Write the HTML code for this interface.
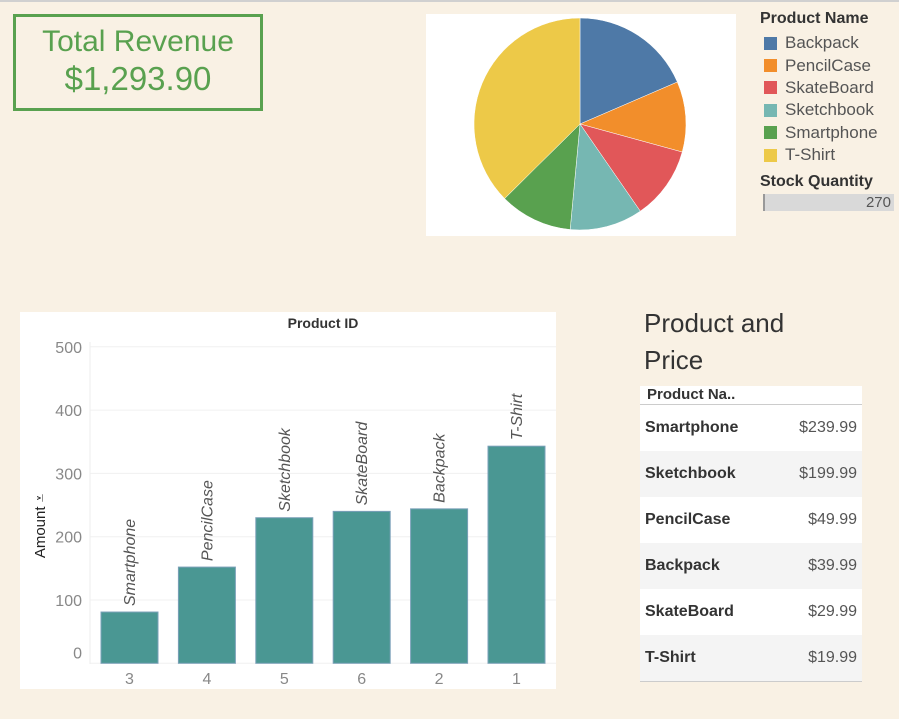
<!DOCTYPE html>
<html><head><meta charset="utf-8">
<style>
body{margin:0;width:899px;height:719px;background:#f9f1e4;font-family:"Liberation Sans",sans-serif;position:relative;overflow:hidden}
.abs{position:absolute}
</style></head><body>
<div class="abs" style="left:0;top:0;width:899px;height:2px;background:#d0d0d0"></div>
<div class="abs" style="left:13px;top:14px;width:250px;height:97px;border:3px solid #59a14f;box-sizing:border-box;text-align:center;color:#59a14f">
  <div style="font-size:30px;margin-top:8px">Total Revenue</div>
  <div style="font-size:33px;margin-top:1px">$1,293.90</div>
</div>
<svg class="abs" style="left:426px;top:14px" width="310" height="222" id="pie"><rect width="310" height="222" fill="#fff"/></svg>
<div class="abs" style="left:760px;top:10px;font-size:17px;color:#555">
  <div style="font-weight:bold;color:#333;margin-bottom:4px;font-size:16px">Product Name</div>
  <div id="legend"></div>
  <div style="font-weight:bold;color:#333;margin-top:7px;font-size:16px">Stock Quantity</div>
  <div style="margin-left:3px;width:131px;height:17px;background:#d9d9d9;border-left:2px solid #999;text-align:right;color:#555;font-size:15px;line-height:17px;margin-top:3px;padding-right:3px;box-sizing:border-box">270</div>
</div>
<svg class="abs" style="left:20px;top:312px" width="536" height="377" id="bar"></svg>
<div class="abs" style="left:644px;top:305px;font-size:26px;color:#333;line-height:37px">Product and<br>Price</div>
<div class="abs" style="left:640px;top:386px;width:222px" id="tbl">
  <div style="height:18px;background:#fff;border-bottom:1px solid #ccc;font-size:15px;font-weight:bold;color:#333;padding-left:7px;line-height:17px">Product Na..</div>
</div>
<script>
const names=["Backpack","PencilCase","SkateBoard","Sketchbook","Smartphone","T-Shirt"];
const colors=["#4e79a7","#f28e2b","#e15759","#76b7b2","#59a14f","#edc948"];
const stock=[50,29,30,30,30,101];
const barIds=["3","4","5","6","2","1"];
const barNames=["Smartphone","PencilCase","Sketchbook","SkateBoard","Backpack","T-Shirt"];
const amounts=[81,152,230,240,244,343];
const yTicks=[0,100,200,300,400,500];
const tblNames=["Smartphone","Sketchbook","PencilCase","Backpack","SkateBoard","T-Shirt"];
const tblPrices=["$239.99","$199.99","$49.99","$39.99","$29.99","$19.99"];
const NS="http://www.w3.org/2000/svg";
function mk(p,t,a){const e=document.createElementNS(NS,t);for(const k in a)e.setAttribute(k,a[k]);p.appendChild(e);return e;}
// pie
const pie=document.getElementById('pie');const cx=154,cy=110,r=106;
const tot=stock.reduce((a,b)=>a+b,0);let ang=0;
stock.forEach((v,i)=>{const a0=ang,a1=ang+v/tot*2*Math.PI;ang=a1;
 const x0=cx+r*Math.sin(a0),y0=cy-r*Math.cos(a0),x1=cx+r*Math.sin(a1),y1=cy-r*Math.cos(a1);
 const p=mk(pie,'path',{d:`M${cx},${cy}L${x0},${y0}A${r},${r} 0 ${a1-a0>Math.PI?1:0} 1 ${x1},${y1}Z`,fill:colors[i],stroke:'#fff','stroke-width':0.5});
 
 });
// legend
const lg=document.getElementById('legend');
names.forEach((n,i)=>{const d=document.createElement('div');d.style.cssText='height:22.4px;line-height:22px;display:flex;align-items:center';
 d.innerHTML=`<span style="display:inline-block;width:13px;height:13px;background:${colors[i]};margin:0 8px 0 4px"></span>${n}`;
 
 lg.appendChild(d);});
// bar
const bar=document.getElementById('bar');
mk(bar,'rect',{width:536,height:377,fill:'#fff'});
const x0=70,bw=77.4,y=v=>351.3-v*0.633;
const t=mk(bar,'text',{x:303,y:16,'text-anchor':'middle','font-size':14,fill:'#333','font-weight':'bold'});t.textContent='Product ID';

yTicks.forEach(v=>{mk(bar,'line',{x1:x0,x2:536,y1:y(v),y2:y(v),stroke:'#f0f0f0'});
 const tx=mk(bar,'text',{x:62,y:y(v)+(v===0?-5:6),'text-anchor':'end','font-size':16,fill:'#888'});tx.textContent=v;
 });
mk(bar,'line',{x1:x0,x2:x0,y1:30,y2:352,stroke:'#eee'});
const yt=mk(bar,'text',{transform:'translate(25,214) rotate(-90)','text-anchor':'middle','font-size':15,fill:'#222'});yt.textContent='Amount ⩡';

amounts.forEach((v,i)=>{const bx=x0+i*bw+11;
 const b=mk(bar,'rect',{x:bx,y:y(v),width:57,height:y(0)-y(v),fill:'#4a9793',stroke:'#7aa0b8','stroke-width':1});
 
 const l=mk(bar,'text',{transform:`translate(${bx+34},${y(v)-6}) rotate(-90)`,'font-size':16,'font-style':'italic',fill:'#555'});l.textContent=barNames[i];
 
 const xt=mk(bar,'text',{x:bx+28.5,y:372,'text-anchor':'middle','font-size':16,fill:'#888'});xt.textContent=barIds[i];
 });
// table
const tb=document.getElementById('tbl');
tblNames.forEach((n,i)=>{const d=document.createElement('div');
 d.style.cssText=`height:46px;background:${i%2?'#f4f4f4':'#fff'};display:flex;justify-content:space-between;align-items:center;padding:0 5px 0 5px;font-size:16px`;
 d.innerHTML=`<span style="font-weight:bold;color:#333">${n}</span><span style="color:#555">${tblPrices[i]}</span>`;
 
 tb.appendChild(d);});
const bl=document.createElement('div');bl.style.cssText='height:1px;background:#ccc';

tb.appendChild(bl);
</script>
</body></html>
